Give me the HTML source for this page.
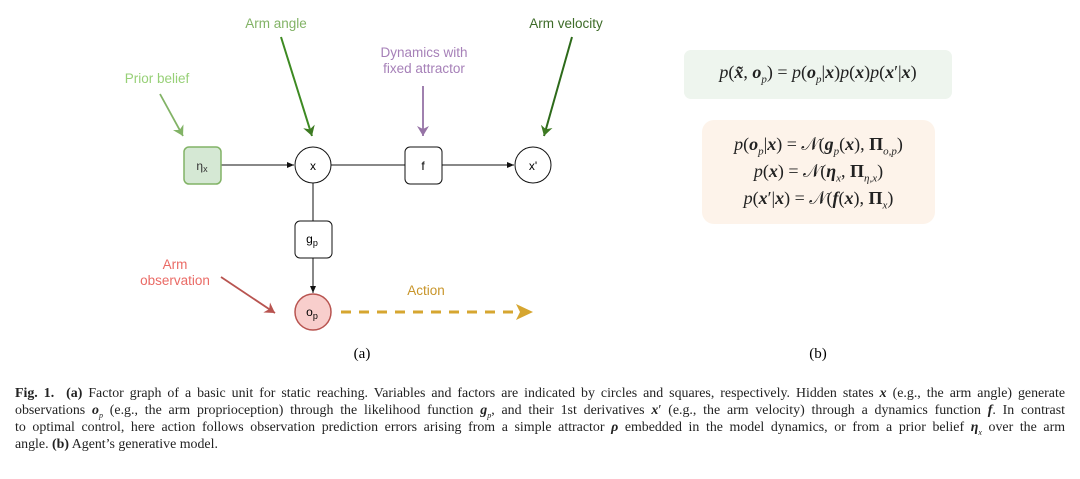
<!DOCTYPE html>
<html><head><meta charset="utf-8"><style>
body{margin:0;width:1080px;height:479px;background:#fff;position:relative;overflow:hidden;font-family:"Liberation Sans",sans-serif}
.eq{position:absolute;font-family:"Liberation Serif",serif;font-size:18px;color:#222;text-align:center;white-space:nowrap}
.b{font-weight:bold;font-style:italic}
i{font-style:italic}
.cap{position:absolute;left:15px;top:385px;width:1050px;font-family:"Liberation Serif",serif;font-size:13.9px;line-height:17px;color:#222}
.cap div{text-align:justify;text-align-last:justify;white-space:nowrap}
.cap div.l{text-align-last:left}
</style></head><body>
<svg width="1080" height="479" style="position:absolute;left:0;top:0" font-family="Liberation Sans, sans-serif">
<defs>
<marker id="ak" markerWidth="8" markerHeight="8" refX="7" refY="4" orient="auto" markerUnits="userSpaceOnUse"><path d="M0,1 L7,4 L0,7 z" fill="#111"/></marker>
<marker id="lg" markerWidth="12" markerHeight="12" refX="10" refY="6" orient="auto" markerUnits="userSpaceOnUse"><path d="M0,0 L10,6 L0,12 L3,6 z" fill="#82b366"/></marker>
<marker id="dg" markerWidth="12" markerHeight="12" refX="10" refY="6" orient="auto" markerUnits="userSpaceOnUse"><path d="M0,0 L10,6 L0,12 L3,6 z" fill="#3d7a22"/></marker>
<marker id="pu" markerWidth="12" markerHeight="12" refX="10" refY="6" orient="auto" markerUnits="userSpaceOnUse"><path d="M0,0 L10,6 L0,12 L3,6 z" fill="#9673a6"/></marker>
<marker id="rd" markerWidth="12" markerHeight="12" refX="10" refY="6" orient="auto" markerUnits="userSpaceOnUse"><path d="M0,0 L10,6 L0,12 L3,6 z" fill="#b85450"/></marker>
</defs>
<g font-size="13.5">
<text x="276" y="28" text-anchor="middle" fill="#82b366">Arm angle</text>
<text x="566" y="28" text-anchor="middle" fill="#3d6b28">Arm velocity</text>
<text x="157" y="83" text-anchor="middle" fill="#97d077">Prior belief</text>
<text x="424" y="57" text-anchor="middle" fill="#a680b8">Dynamics with</text>
<text x="424" y="73" text-anchor="middle" fill="#a680b8">fixed attractor</text>
<text x="175" y="269" text-anchor="middle" fill="#ea6b66">Arm</text>
<text x="175" y="285" text-anchor="middle" fill="#ea6b66">observation</text>
<text x="426" y="295" text-anchor="middle" fill="#c8952a">Action</text>
</g>
<line x1="281" y1="37" x2="312" y2="136" stroke="#3d8a22" stroke-width="2" marker-end="url(#dg)"/>
<line x1="160" y1="94" x2="183" y2="136" stroke="#82b366" stroke-width="1.8" marker-end="url(#lg)"/>
<line x1="423" y1="86" x2="423" y2="136" stroke="#9673a6" stroke-width="1.8" marker-end="url(#pu)"/>
<line x1="572" y1="37" x2="544" y2="136" stroke="#2d6a1a" stroke-width="2" marker-end="url(#dg)"/>
<line x1="221" y1="277" x2="275" y2="313" stroke="#b85450" stroke-width="1.8" marker-end="url(#rd)"/>
<line x1="221" y1="165" x2="294" y2="165" stroke="#111" marker-end="url(#ak)"/>
<line x1="331" y1="165" x2="405" y2="165" stroke="#111"/>
<line x1="442" y1="165" x2="514" y2="165" stroke="#111" marker-end="url(#ak)"/>
<line x1="313" y1="183" x2="313" y2="221" stroke="#111"/>
<line x1="313" y1="258" x2="313" y2="293" stroke="#111" marker-end="url(#ak)"/>
<rect x="184" y="147" width="37" height="37" rx="5" fill="#d5e8d4" stroke="#82b366" stroke-width="1.5"/>
<text x="202" y="170" text-anchor="middle" font-size="12" fill="#333">η<tspan font-size="9" dy="2">x</tspan></text>
<circle cx="313" cy="165" r="18" fill="#fff" stroke="#111"/>
<text x="313" y="170" text-anchor="middle" font-size="12">x</text>
<rect x="405" y="147" width="37" height="37" rx="5" fill="#fff" stroke="#111"/>
<text x="423" y="170" text-anchor="middle" font-size="12">f</text>
<circle cx="533" cy="165" r="18" fill="#fff" stroke="#111"/>
<text x="533" y="170" text-anchor="middle" font-size="12">x'</text>
<rect x="295" y="221" width="37" height="37" rx="5" fill="#fff" stroke="#111"/>
<text x="312" y="243" text-anchor="middle" font-size="12">g<tspan font-size="9" dy="3">p</tspan></text>
<circle cx="313" cy="312" r="18" fill="#f8cecc" stroke="#b85450" stroke-width="1.5"/>
<text x="312" y="316" text-anchor="middle" font-size="12">o<tspan font-size="9" dy="3">p</tspan></text>
<line x1="341" y1="312" x2="517" y2="312" stroke="#d6a630" stroke-width="3" stroke-dasharray="10,8"/>
<path d="M516,304 L533,312 L516,320 L520,312 z" fill="#d6a630"/>
<text x="362" y="358" text-anchor="middle" font-family="Liberation Serif, serif" font-size="15">(a)</text>
<text x="818" y="358" text-anchor="middle" font-family="Liberation Serif, serif" font-size="15">(b)</text>
<rect x="684" y="50" width="268" height="49" rx="7" fill="#eef5ee"/>
<rect x="702" y="120" width="233" height="104" rx="12" fill="#fdf3ea"/>
</svg>
<div class="eq" style="left:684px;width:268px;top:62px"><i>p</i>(<span class="b">x̃</span>, <span class="b">o</span><sub style="font-size:11px;line-height:0"><i>p</i></sub>) = <i>p</i>(<span class="b">o</span><sub style="font-size:11px;line-height:0"><i>p</i></sub>|<span class="b">x</span>)<i>p</i>(<span class="b">x</span>)<i>p</i>(<span class="b">x</span>′|<span class="b">x</span>)</div>
<div class="eq" style="left:702px;width:233px;top:131px;line-height:27px">
<i>p</i>(<span class="b">o</span><sub style="font-size:11px;line-height:0"><i>p</i></sub>|<span class="b">x</span>) = 𝒩(<span class="b">g</span><sub style="font-size:11px;line-height:0"><i>p</i></sub>(<span class="b">x</span>), <b>Π</b><sub style="font-size:11px;line-height:0"><i>o,p</i></sub>)<br>
<i>p</i>(<span class="b">x</span>) = 𝒩(<span class="b">η</span><sub style="font-size:11px;line-height:0"><i>x</i></sub>, <b>Π</b><sub style="font-size:11px;line-height:0"><i>η,x</i></sub>)<br>
<i>p</i>(<span class="b">x</span>′|<span class="b">x</span>) = 𝒩(<span class="b">f</span>(<span class="b">x</span>), <b>Π</b><sub style="font-size:11px;line-height:0"><i>x</i></sub>)</div>
<div class="cap">
<div><b>Fig. 1.</b>&nbsp; <b>(a)</b> Factor graph of a basic unit for static reaching. Variables and factors are indicated by circles and squares, respectively. Hidden states <span class="b">x</span> (e.g., the arm angle) generate</div>
<div>observations <span class="b">o</span><sub style="font-size:8px;line-height:0"><i>p</i></sub> (e.g., the arm proprioception) through the likelihood function <span class="b">g</span><sub style="font-size:8px;line-height:0"><i>p</i></sub>, and their 1st derivatives <span class="b">x</span>′ (e.g., the arm velocity) through a dynamics function <span class="b">f</span>. In contrast</div>
<div>to optimal control, here action follows observation prediction errors arising from a simple attractor <span class="b">ρ</span> embedded in the model dynamics, or from a prior belief <span class="b">η</span><sub style="font-size:8px;line-height:0"><i>x</i></sub> over the arm</div>
<div class="l">angle. <b>(b)</b> Agent’s generative model.</div>
</div>
</body></html>
